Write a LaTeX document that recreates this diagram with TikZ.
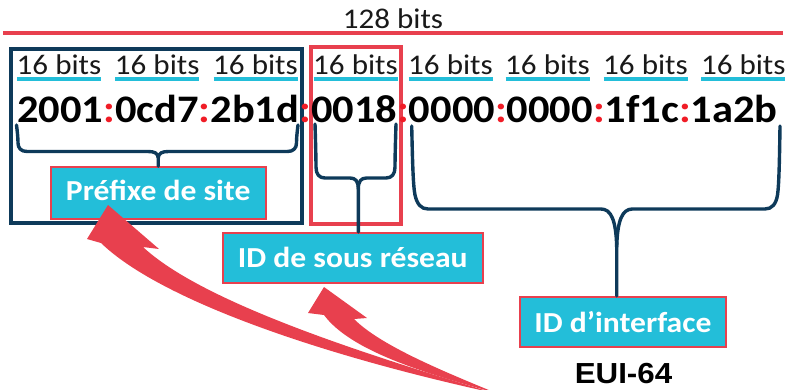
\documentclass[tikz,border=0pt]{standalone}
\usepackage{fontspec}
\setmainfont{Carlito}[FakeStretch=1.09]
\newfontfamily\euifont{Liberation Sans}[FakeStretch=1.08]
\definecolor{myred}{RGB}{232,64,78}
\definecolor{colred}{RGB}{240,28,38}
\definecolor{navy}{RGB}{14,58,90}
\definecolor{mycyan}{RGB}{35,190,217}
\newcommand{\ipgroups}[1]{2001{\color{#1}:}0cd7{\color{#1}:}2b1d{\color{#1}:}0018{\color{#1}:}0000{\color{#1}:}0000{\color{#1}:}1f1c{\color{#1}:}1a2b}
\begin{document}
\begin{tikzpicture}[x=1pt,y=-1pt,
  titletxt/.style={anchor=base,inner sep=0pt,text=black!90,font=\fontsize{28.5}{30}\selectfont},
  bitstxt/.style={anchor=base,inner sep=0pt,text=black!90,font=\fontsize{28.5}{30}\selectfont},
  addrtxt/.style={anchor=base,inner sep=0pt,text=black,font=\bfseries\fontsize{39}{42}\selectfont},
  lblbox/.style={draw=myred,line width=2pt,fill=mycyan,inner sep=0pt},
  lbltxt/.style={anchor=base,inner sep=0pt,text=white,font=\bfseries\fontsize{29}{31}\selectfont},
  euitxt/.style={anchor=base,inner sep=0pt,text=black,font=\euifont\bfseries\fontsize{29}{31}\selectfont},
  redline/.style={myred,line width=3.8pt},
  uline/.style={mycyan,line width=3.5pt},
  grpbox/.style={line width=4pt},
  brace/.style={navy,line width=3.4pt,line cap=round,line join=round},
  bigarrow/.style={fill=myred,draw=none}
]
\useasboundingbox (0,0) rectangle (787,389);
\clip (0,0) rectangle (787,389);

% top
\node[titletxt] (title) at (393,28) {128 bits};
\coordinate (rl) at (3,33);
\coordinate (rr) at (783,33);
\draw[redline] (rl) -- (rr);

% group boxes
\draw[grpbox,navy] (11,49) rectangle (302,222.5);
\draw[grpbox,myred] (311,46.5) rectangle (400.5,223.5);

% 16 bits labels
\foreach \x [count=\i] in {59,157.2,255.5,355.5,450.5,547.5,645.5,743.3} {
  \node[bitstxt] (b\i) at (\x,74) {16 bits};
  \draw[uline] (\x-42,79) -- (\x+42,79);
}

% address
\node[addrtxt] (ip) at (397.5,122) {\ipgroups{colred}};

% label boxes
\node[lblbox,minimum width=214.5pt,minimum height=51.5pt] (pfx) at (158.25,193) {};
\node[lbltxt] (pfxt) at (158.25,200) {Préfixe de site};
\node[lblbox,minimum width=260.5pt,minimum height=50pt] (sub) at (352.75,258) {};
\node[lbltxt] (subt) at (352.75,267) {ID de sous réseau};
\node[lblbox,minimum width=205.2pt,minimum height=50pt] (ifc) at (622.9,322) {};
\node[lbltxt] (ifct) at (622.9,332) {ID d’interface};
\node[euitxt] (eui) at (623.5,383) {EUI-64};

% braces
\coordinate (pstem) at (158.25,158);
\draw[brace] (16.5,125) .. controls (17.5,133) and (18,138) .. (18,143)
  .. controls (18,148) and (21,151.5) .. (27,151.5) -- (148,151.5)
  .. controls (154,151.5) and (158.25,153) .. (pstem) -- (pfx.north);
\draw[brace] (298,125) .. controls (297,133) and (296.5,138) .. (296.5,143)
  .. controls (296.5,148) and (293.5,151.5) .. (287.5,151.5) -- (168.5,151.5)
  .. controls (162.5,151.5) and (158.25,153) .. (pstem);

\coordinate (sstem) at (358.3,189);
\draw[brace] (315,124) .. controls (315.5,140) and (316,158) .. (316,167)
  .. controls (316,174) and (319,178) .. (325,178) -- (350,178)
  .. controls (355.5,178) and (358.3,181) .. (sstem) -- (sstem |- sub.north);
\draw[brace] (396,124) .. controls (395.5,140) and (395,158) .. (395,167)
  .. controls (395,174) and (392,178) .. (386,178) -- (366.6,178)
  .. controls (361.1,178) and (358.3,181) .. (sstem);

\coordinate (istem) at (616.7,247);
\draw[brace] (411.7,126) .. controls (412.5,160) and (413,185) .. (415,195)
  .. controls (417,204) and (421,209) .. (428,209) -- (601,209)
  .. controls (611,209) and (616,220) .. (istem) -- (istem |- ifc.north);
\draw[brace] (780,126) .. controls (779.5,160) and (779,185) .. (777.5,195)
  .. controls (776,204) and (772,209) .. (765,209) -- (632.4,209)
  .. controls (622.4,209) and (617.4,220) .. (istem);

% big curved arrows
\fill[bigarrow] (108,205) -- (87,239) -- (101,243)
  .. controls (160,300) and (320,355) .. (494,393)
  .. controls (350,350) and (200,300) .. (143,247)
  -- (159,249) -- cycle;
\fill[bigarrow] (324,287) -- (308,313) -- (324,315)
  .. controls (350,350) and (420,372) .. (496,393)
  .. controls (440,370) and (380,345) .. (354,319)
  -- (367,318) -- cycle;
\end{tikzpicture}
\end{document}
